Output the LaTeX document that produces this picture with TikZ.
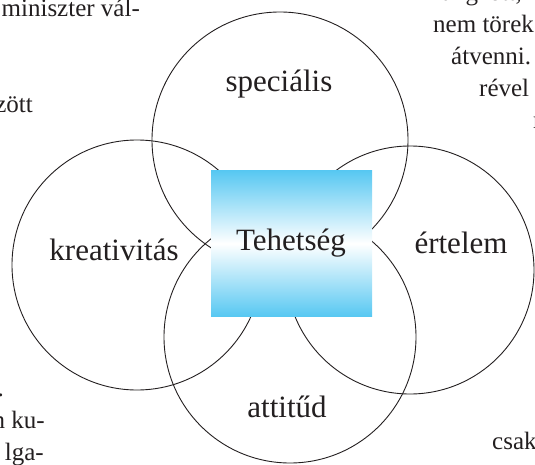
\documentclass[tikz,border=0pt]{standalone}
\usepackage{fontspec}
\setmainfont{Liberation Serif}
\definecolor{ink}{RGB}{35,31,32}
\definecolor{cyanbox}{RGB}{88,200,242}
\begin{document}
\begin{tikzpicture}[x=1pt,y=-1pt,
  ring/.style={circle,draw=ink,line width=0.9pt,inner sep=0pt},
  label/.style={inner sep=0pt,anchor=base,text=ink,font=\fontsize{31}{31}\selectfont},
  side/.style={inner sep=0pt,text=ink,font=\fontsize{25}{25}\selectfont},
  sidel/.style={side,anchor=base east},
  sider/.style={side,anchor=base west}]
\useasboundingbox (0,0) rectangle (535,465);
% circles
\node[ring,minimum size=256pt] (spec) at (280,140) {};
\node[ring,minimum size=250pt] (krea) at (137,265) {};
\node[ring,minimum size=248pt] (ert) at (410,270) {};
\node[ring,minimum size=252pt] (att) at (290,337) {};
% central box
\node[rectangle,inner sep=0pt,minimum width=161pt,minimum height=145pt,
  top color=cyanbox,bottom color=cyanbox,middle color=white] (teh) at (291.5,243.5) {};
% labels
\node[label] (lspec) at (279,92) {speciális};
\node[label] (lkrea) at (114,260) {kreativitás};
\node[label] (lert) at (461,253) {értelem};
\node[label] (latt) at (287,417) {attitűd};
\node[label] (lteh) at (291,250) {Tehetség};
% surrounding page text
\node[sidel] (t1) at (140,17) {miniszter vál-};
\node[sidel] (t2) at (33,113) {zött};
\node[sidel] (t3) at (4,396) {.};
\node[sidel] (t4) at (45,428) {n ku-};
\node[sidel] (t5) at (44,460) {lga-};
\node[sider] (r1) at (407,1) {Elhangzott,};
\node[sider] (r2) at (433,33) {nem törek};
\node[sider] (r3) at (451,65) {átvenni.};
\node[sider] (r4) at (479,97) {rével};
\node[sider] (r5) at (533,129) {n};
\node[sider] (r6) at (492,449) {csak};
\end{tikzpicture}
\end{document}
